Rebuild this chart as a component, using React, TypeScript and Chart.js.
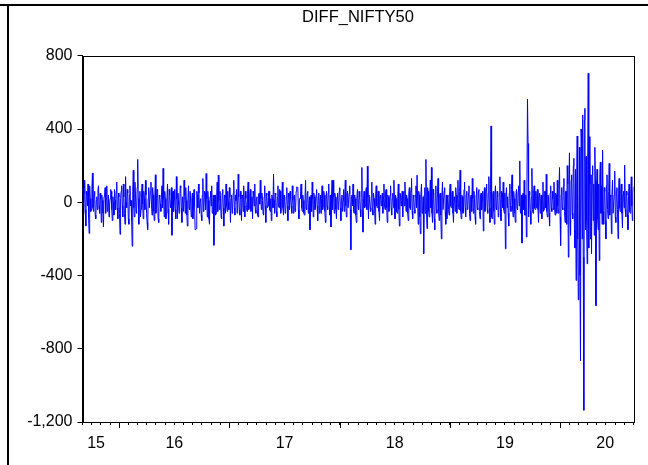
import React, { useEffect, useRef } from "react";
import { Chart, registerables } from "chart.js";

Chart.register(...registerables);

const TITLE = "DIFF_NIFTY50";
// daily observations run from start of Sep 2015 to end of Aug 2020 (in fractional years)
const X_START = 2015 + 8 / 12;
const X_END = 2020 + 8 / 12;
const yearBoundaries = [2016, 2017, 2018, 2019, 2020];
const yearLabels = ["15", "16", "17", "18", "19", "20"];
const yearLabelAt = [2015.79, 2016.5, 2017.5, 2018.5, 2019.5, 2020.41];
const Y_MIN = -1200;
const Y_MAX = 800;
const Y_STEP = 400;

const diffNifty50 = [
  80, 30, -60, 50, 120, -40, -130, 60, 40, -20, 100, -80, -170, 90, 20, -50, -40, 70, 160, -30,
  -50, 40, 60, -70, -90, 10, 30, -40, 70, 90, -20, -60, 50, 20, -110, 40, 10, -60, -135, 30,
  40, 80, -60, 20, 90, -50, -30, 40, -80, -20, 20, 70, 60, -40, -100, 30, 0, -70, 70, 10,
  -40, 60, 110, -30, -90, 50, 30, -60, -175, 20, 60, 90, -20, -80, 100, 30, -60, -120, 140, 0,
  -30, 70, 50, -90, -120, 40, 90, -20, 10, -100, -240, 60, 175, -30, -80, 110, 40, -50, -60, 80, 234, 20,
  -120, 30, 60, -80, -40, 50, 100, -10, -90, 60, 20, -40, 120, 40, -60, -110, -150, 20, 80, -30,
  -30, 60, 110, -20, -70, 80, 40, -50, -100, 30, 150, -60, -20, 70, 60, -90, -110, 40, 30, -10,
  -50, 40, 90, -30, 185, 20, -80, 60, 20, -90, -60, 30, 100, -40, -120, 70, 40, -20, -30, 80,
  -180, 40, 60, -50, 10, 70, -40, -90, 140, 20, -90, 50, 50, -60, -20, 90, 80, -30, -110, 30,
  30, -50, 120, 40, -60, 80, 10, -70, -130, 20, 90, -30, -40, 60, 60, -80, 20, 50, -90, 10,
  70, -20, -150, -148, -145, 60, 40, -30, 100, 50, -60, 10, 20, -70, -100, 40, 130, -50, -30, 60,
  50, -40, 157, 20, -80, 60, 10, -90, -120, 30, 60, -20, 90, -60, -50, 40, -235, 20, 40, -70,
  -60, 30, 110, -50, 148, 10, -40, 60, 20, -80, -90, 50, 70, -30, -130, 40, 30, -60, 100, -20,
  -50, 60, 0, -40, 80, 30, -110, 20, 40, -60, -20, 50, 120, -30, -70, 40, 10, 70, -60, -10,
  153, 30, -40, -70, 60, 20, -100, 40, 30, -50, 90, -20, -80, 60, 20, -30, -50, 50, 110, -40,
  -30, 40, 70, -50, -20, 30, -90, 60, 40, -20, 100, -40, -60, 20, 30, -70, -80, 40, 50, -10,
  120, 20, -40, 50, 10, -60, -70, 30, 90, -20, -110, 50, 40, -30, -20, 60, 60, -40, -50, 20,
  -100, 40, 20, -30, 153, 10, -60, 50, 40, -50, -80, 30, 90, -20, -30, 70, 60, -60, -40, 30,
  110, -30, -70, 40, 20, -60, -50, 30, 80, -20, -100, 50, 30, -40, 60, 20, -20, -60, 90, 10,
  -60, 30, 40, -50, -30, 60, 84, 82, 80, -40, -90, 20, 20, 60, 100, -30, -50, 40, 10, -60,
  -70, 20, 120, -30, -40, 50, 60, -60, -20, 30, -150, 10, 40, -50, 110, 20, -80, 50, 30, -40,
  -30, 40, 70, -20, -100, 30, 50, -60, 10, 40, -60, 20, 90, -40, -20, 60, 40, -50, -110, 20,
  60, -20, -40, 50, 100, -30, -70, 40, -135, 20, 120, -40, 120, 30, -60, 50, 30, -40, -90, 20,
  50, -40, -20, 60, 80, -30, -100, 20, 40, -50, 10, 70, -50, 30, 120, -20, -80, 40, 60, -30,
  -30, 50, 90, -40, -260, 30, 40, -20, 100, -50, -60, 40, 20, -70, -110, 30, 70, -20, -40, 60,
  30, -40, -80, 60, 190, -50, -163, 20, 60, -30, -20, 50, 80, -40, 197, 30, -90, 40, 40, -30,
  -50, 30, 110, -40, -70, 50, 20, -30, -120, 40, 90, -20, -30, 60, 60, -50, -100, 30, 40, -20,
  10, 50, -60, 30, 100, -20, -40, 60, 70, -30, -110, 40, 30, -50, -20, 40, 90, -30, -70, 20,
  50, -30, 120, 20, -90, 40, 20, -50, -60, 30, 100, -40, -130, 50, 40, -20, 10, 60, -80, 30,
  60, -20, 111, 30, -50, 40, 20, -60, -100, 50, 80, -30, -40, 60, 130, -50, -90, 40, 30, -40,
  -60, 40, 90, -30, 148, 148, -120, 60, 40, -80, -172, 50, 100, -60, -50, 30, -281, 40, 80, -60,
  234, -40, -144, 80, 60, -50, -80, 40, 120, -30, 190, -60, -110, 70, 40, -90, -150, 50, 90, -40,
  -60, 60, 130, -50, -100, 40, 50, -70, -200, 30, 110, -40, -40, 60, 80, -50, -120, 40, -90, 30,
  40, -40, -70, 60, 100, -20, -30, 50, 60, -60, -110, 30, 20, -50, 80, 40, -60, 30, 120, -30,
  -40, 60, 175, -50, -90, 40, 30, -60, -50, 70, 110, -30, -80, 40, 60, -40, -20, 50, 90, -60,
  -100, 30, 40, -50, 130, 20, -60, 60, 20, -80, -120, 40, 80, -30, -40, 60, 70, -50, -90, 40,
  50, -40, 10, 60, -157, 30, 80, -50, -30, 70, 100, -40, -60, 50, 140, -30, -110, 60, 417, -80,
  -90, 40, 60, -50, -120, 40, 90, -30, -40, 60, 30, -80, -70, 50, 139, -40, -100, 60, 50, -30,
  110, -40, -60, 50, -254, 40, 80, -30, 30, -60, -130, 50, 100, -20, -50, 70, 150, -40, -80, 60,
  20, -60, -110, 40, 70, -30, -40, 60, 90, -20, 226, -50, -60, 40, -223, 30, 50, -40, 120, -70,
  -70, 40, -190, 100, 563, 321, -80, 60, 40, -50, -120, 30, 185, -40, -60, 50, 90, -30, -40, 60,
  -30, 50, 70, -40, -110, 30, 50, -60, 20, 40, -90, 30, 110, -50, -40, 60, 60, -30, 153, -50,
  -80, 40, 30, -60, -130, 50, 90, -30, -50, 60, 20, -40, 110, -30, -70, 50, 40, -60, 120, -20,
  -60, 70, 190, -80, -236, 40, 80, -30, -40, 90, 130, -50, -110, 60, 60, -120, 200, 100, -300, 80,
  270, -100, -180, 120, 150, -60, -90, 200, 240, -150, -250, 180, -427, 100, 362, -200, -533, -530, 300, -400,
  -866, 400, 330, -200, 477, -300, -1136, 450, 513, -150, 250, -100, -336, 200, 705, -250, 358, 100, -200, 150,
  -281, 150, 200, -100, 100, -180, 300, 120, -565, 60, 180, -90, -150, 100, -318, 150, 220, -60, 90, -120,
  285, -50, -120, 80, 60, -100, -200, 90, 150, -40, -90, 60, 212, -70, 40, 30, -172, 50, 120, -60,
  -60, 40, 170, -80, -110, 60, 80, -40, -199, 50, 130, -30, -50, 70, 100, -60, -140, 40, 60, -30,
  203, -40, -80, 60, 40, -70, -150, 30, 100, -50, -60, 40, 139, -20, -100, 50, 84,
];

const FONT = "'Liberation Sans', Arial, Helvetica, sans-serif";

export default function App() {
  const ref = useRef<HTMLCanvasElement | null>(null);

  useEffect(() => {
    if (!ref.current) return;
    const n = diffNifty50.length;
    const points = diffNifty50.map((v, i) => ({
      x: X_START + (i * (X_END - X_START)) / (n - 1),
      y: v,
    }));

    const frame = {
      id: "frame",
      afterDraw(chart: any) {
        const { ctx, chartArea } = chart;
        const xs = chart.scales.x;
        ctx.save();
        ctx.strokeStyle = "#000";
        ctx.lineWidth = 1;
        ctx.strokeRect(
          Math.round(chartArea.left) + 0.5,
          Math.round(chartArea.top) + 0.5,
          Math.round(chartArea.right - chartArea.left),
          Math.round(chartArea.bottom - chartArea.top)
        );
        // longer ticks at year boundaries
        const yb = Math.round(chartArea.bottom);
        ctx.beginPath();
        yearBoundaries.forEach((yv) => {
          const px = Math.round(xs.getPixelForValue(yv)) + 0.5;
          ctx.moveTo(px, yb);
          ctx.lineTo(px, yb + 6);
        });
        ctx.stroke();
        ctx.restore();
      },
    };

    const chart = new Chart(ref.current, {
      type: "line",
      data: {
        datasets: [
          {
            data: points,
            borderColor: "#0000ff",
            borderWidth: 1,
            pointRadius: 0,
            tension: 0,
            fill: false,
          },
        ],
      },
      options: {
        animation: false,
        responsive: false,
        events: [],
        layout: { padding: { left: 0, right: 14.5, top: 0, bottom: 0 } },
        plugins: {
          legend: { display: false },
          tooltip: { enabled: false },
          title: {
            display: true,
            fullSize: false,
            text: TITLE,
            color: "#000",
            font: { family: FONT, size: 16.5, weight: "normal" },
            padding: { top: 8, bottom: 28 },
          },
        },
        scales: {
          x: {
            type: "linear",
            min: X_START,
            max: X_END,
            position: "bottom",
            afterBuildTicks: (scale: any) => {
              const ticks: any[] = [];
              for (let m = 0; m <= 60; m++) {
                ticks.push({ value: X_START + m / 12, isLabel: false });
              }
              yearLabelAt.forEach((v, i) =>
                ticks.push({ value: v, isLabel: true, text: yearLabels[i] })
              );
              ticks.sort((a, b) => a.value - b.value);
              scale.ticks = ticks;
            },
            afterFit: (scale: any) => {
              scale.height = 43;
            },
            grid: {
              display: true,
              drawOnChartArea: false,
              drawTicks: true,
              tickLength: 3,
              tickColor: (ctx: any) =>
                ctx.tick && ctx.tick.isLabel ? "rgba(0,0,0,0)" : "#000",
              color: "#000",
            },
            border: { display: true, color: "#000", width: 1 },
            ticks: {
              autoSkip: false,
              maxRotation: 0,
              minRotation: 0,
              color: "#000",
              padding: 9,
              font: { family: FONT, size: 16 },
              callback: (_v: any, i: number, ticks: any[]) =>
                ticks[i] && ticks[i].isLabel ? ticks[i].text : "",
            },
          },
          y: {
            type: "linear",
            min: Y_MIN,
            max: Y_MAX,
            afterFit: (scale: any) => {
              scale.width = 82.5;
            },
            grid: {
              display: true,
              drawOnChartArea: false,
              drawTicks: true,
              tickLength: 5,
              color: "#000",
            },
            border: { display: true, color: "#000", width: 1 },
            ticks: {
              stepSize: Y_STEP,
              color: "#000",
              padding: 5,
              font: { family: FONT, size: 16 },
            },
          },
        },
      },
      plugins: [frame],
    } as any);

    return () => chart.destroy();
  }, []);

  return (
    <div
      style={{
        position: "absolute",
        left: 0,
        top: 0,
        width: 648,
        height: 465,
        background: "#fff",
        overflow: "hidden",
      }}
    >
      <div
        style={{
          position: "absolute",
          left: 0,
          top: 4,
          width: 648,
          height: 2,
          background: "#000",
        }}
      />
      <div
        style={{
          position: "absolute",
          left: 7,
          top: 4,
          width: 2,
          height: 461,
          background: "#000",
        }}
      />
      <canvas
        ref={ref}
        width={648}
        height={465}
        style={{ position: "absolute", left: 0, top: 0, width: 648, height: 465 }}
      />
    </div>
  );
}
